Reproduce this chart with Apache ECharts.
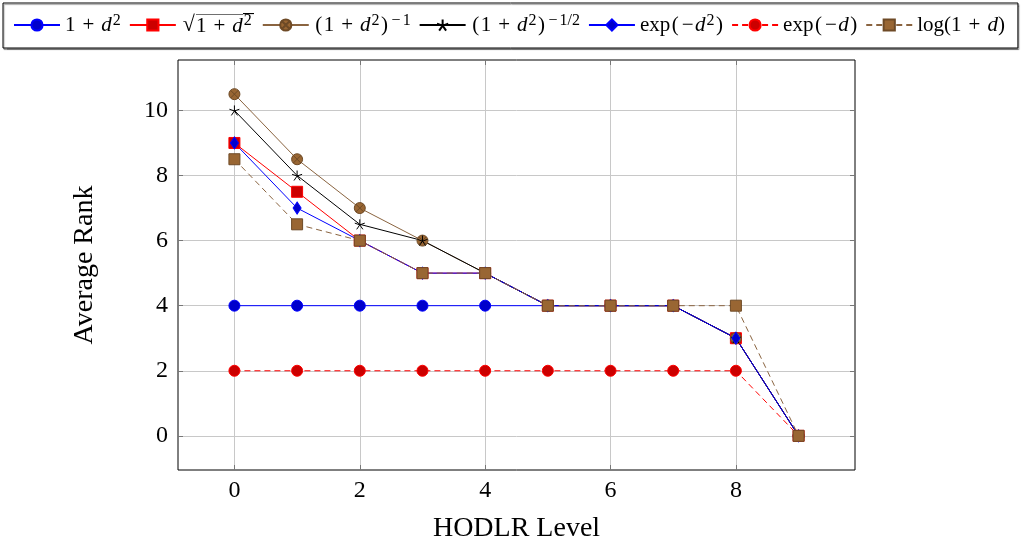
<!DOCTYPE html>
<html>
<head>
<meta charset="utf-8">
<script src="https://cdn.jsdelivr.net/npm/echarts@6/dist/echarts.min.js"></script>
<style>
  html, body { margin: 0; padding: 0; background: #fff; }
  #chart { width: 1021px; height: 544px; }
</style>
</head>
<body>
<div id="chart"></div>
<script>
// HODLR level on the x axis, average rank per kernel on the y axis
const levels = [0, 1, 2, 3, 4, 5, 6, 7, 8, 9];
const rankOnePlusD2     = [4, 4, 4, 4, 4, 4, 4, 4, 3, 0];
const rankSqrtOnePlusD2 = [9, 7.5, 6, 5, 5, 4, 4, 4, 3, 0];
const rankInvOnePlusD2  = [10.5, 8.5, 7, 6, 5, 4, 4, 4, 3, 0];
const rankInvSqrt       = [10, 8, 6.5, 6, 5, 4, 4, 4, 3, 0];
const rankExpNegD2      = [9, 7, 6, 5, 5, 4, 4, 4, 3, 0];
const rankExpNegD       = [2, 2, 2, 2, 2, 2, 2, 2, 2, 0];
const rankLogOnePlusD   = [8.5, 6.5, 6, 5, 5, 4, 4, 4, 4, 0];

const xTicks = [0, 2, 4, 6, 8];
const yTicks = [0, 2, 4, 6, 8, 10];

const seriesNames = ['1+d^2', 'sqrt(1+d^2)', '(1+d^2)^-1', '(1+d^2)^-1/2', 'exp(-d^2)', 'exp(-d)', 'log(1+d)'];

// rich-text legend labels (math-style spacing around operators and delimiters)
const SP = '\u2004';
const PLUS = '1' + SP + '+' + SP;
const legendText = {
  '1+d^2': '{n|' + PLUS + '}{i|d}{s|2}',
  'sqrt(1+d^2)': '{r|\u221A}{o|' + PLUS + '}{oi|d}{os|2}',
  '(1+d^2)^-1': '{p|(}{n|' + PLUS + '}{i|d}{s|2}{p|)}{sm|\u2212}{s|1}',
  '(1+d^2)^-1/2': '{p|(}{n|' + PLUS + '}{i|d}{s|2}{p|)}{sm|\u2212}{s|1/2}',
  'exp(-d^2)': '{n|exp}{p|(}{m|\u2212}{i|d}{s|2}{p|)}',
  'exp(-d)': '{n|exp}{p|(}{m|\u2212}{i|d}{p|)}',
  'log(1+d)': '{n|log(' + PLUS + '}{i|d}{n|)}'
};

// a thin bar along the top edge, stretched behind the radicand as its vinculum
const barImg = document.createElement('canvas');
barImg.width = 2; barImg.height = 22;
(function () {
  const c = barImg.getContext('2d');
  c.fillStyle = '#000';
  c.fillRect(0, 0, 2, 1);
})();

const BLUE = '#0000ff', BLUE_FILL = '#0000cc';
const RED = '#ff0000', RED_FILL = '#cc0000';
const BROWN = '#8a6440', BROWN_FILL = '#996633', BROWN_EDGE = '#6e4a26';

const otimes = 'path://M-5,0A5,5,0,1,0,5,0A5,5,0,1,0,-5,0ZM-3.5,-3.5L3.5,3.5M-3.5,3.5L3.5,-3.5';
const star = 'path://M0,0L0,-5M0,0L4.76,-1.55M0,0L2.94,4.05M0,0L-2.94,4.05M0,0L-4.76,-1.55';

function pts(ys) { return levels.map((x, i) => [x, ys[i]]); }

function mkSeries(name, ys, opt) {
  return Object.assign({
    name: name,
    type: 'line',
    data: pts(ys),
    symbolSize: 11,
    showAllSymbol: true,
    animation: false,
    lineStyle: { width: 1 }
  }, opt);
}

const series = [
  mkSeries(seriesNames[0], rankOnePlusD2, {
    symbol: 'circle', color: BLUE,
    lineStyle: { width: 1, color: BLUE },
    itemStyle: { color: BLUE_FILL, borderColor: BLUE, borderWidth: 1 }
  }),
  mkSeries(seriesNames[1], rankSqrtOnePlusD2, {
    symbol: 'rect', symbolSize: 11, color: RED,
    lineStyle: { width: 1, color: RED },
    itemStyle: { color: RED_FILL, borderColor: RED, borderWidth: 1 }
  }),
  mkSeries(seriesNames[2], rankInvOnePlusD2, {
    symbol: otimes, symbolSize: 11, color: BROWN,
    lineStyle: { width: 1, color: BROWN },
    itemStyle: { color: BROWN_FILL, borderColor: BROWN_EDGE, borderWidth: 1 }
  }),
  mkSeries(seriesNames[3], rankInvSqrt, {
    symbol: star, symbolSize: 10, color: '#000',
    lineStyle: { width: 1, color: '#000' },
    itemStyle: { color: 'rgba(0,0,0,0)', borderColor: '#000', borderWidth: 1 }
  }),
  mkSeries(seriesNames[4], rankExpNegD2, {
    symbol: 'diamond', symbolSize: [8, 12], color: BLUE,
    lineStyle: { width: 1, color: BLUE },
    itemStyle: { color: BLUE_FILL, borderColor: BLUE, borderWidth: 1 }
  }),
  mkSeries(seriesNames[5], rankExpNegD, {
    symbol: 'circle', color: RED,
    lineStyle: { width: 1, color: RED, type: [6, 4] },
    itemStyle: { color: RED_FILL, borderColor: RED, borderWidth: 1 }
  }),
  mkSeries(seriesNames[6], rankLogOnePlusD, {
    symbol: 'rect', symbolSize: 11, color: BROWN,
    lineStyle: { width: 1, color: BROWN, type: [6, 4] },
    itemStyle: { color: BROWN_FILL, borderColor: BROWN_EDGE, borderWidth: 1 }
  })
];

const SERIF = '"Liberation Serif", "DejaVu Serif", serif';
const labelFont = { fontFamily: SERIF, fontSize: 24, color: '#000' };
const titleFont = { fontFamily: SERIF, fontSize: 28, color: '#000' };

function xAxisDef(pos, main) {
  return {
    type: 'value', position: pos, min: -0.9, max: 9.9,
    axisLine: { show: false, onZero: false },
    axisTick: { show: true, inside: true, length: 5, customValues: xTicks, lineStyle: { color: '#777', width: 1 } },
    axisLabel: main ? Object.assign({ customValues: xTicks, margin: 9 }, labelFont) : { show: false },
    splitLine: { show: main, lineStyle: { color: '#c8c8c8', width: 1 } },
    name: main ? 'HODLR Level' : '',
    nameLocation: 'middle', nameGap: 45,
    nameTextStyle: titleFont
  };
}
function yAxisDef(pos, main) {
  return {
    type: 'value', position: pos, min: -1.05, max: 11.55,
    axisLine: { show: false, onZero: false },
    axisTick: { show: true, inside: true, length: 5, customValues: yTicks, lineStyle: { color: '#777', width: 1 } },
    axisLabel: main ? Object.assign({ customValues: yTicks, margin: 10 }, labelFont) : { show: false },
    splitLine: { show: main, lineStyle: { color: '#c8c8c8', width: 1 } },
    name: main ? 'Average Rank' : '',
    nameLocation: 'middle', nameGap: 79, nameRotate: 90,
    nameTextStyle: titleFont
  };
}

const LF = 21;   // legend font size
const SF = 16;   // superscript size
const base = { fontFamily: SERIF, color: '#000' };
const chart = echarts.init(document.getElementById('chart'), null, { renderer: 'canvas' });
chart.setOption({
  backgroundColor: '#fff',
  animation: false,
  grid: {
    left: 178, right: 166, top: 60, bottom: 74,
    outerBoundsMode: 'none', containLabel: false,
    show: true, borderColor: '#000', borderWidth: 1, backgroundColor: 'transparent'
  },
  legend: {
    data: seriesNames,
    left: 3, top: 3,
    orient: 'horizontal',
    padding: [10, 13, 11, 10],
    itemGap: 8,
    itemWidth: 46, itemHeight: 14,
    borderColor: '#000', borderWidth: 1,
    shadowColor: 'rgba(0,0,0,0.35)', shadowOffsetX: 1, shadowOffsetY: 1.5, shadowBlur: 1,
    backgroundColor: '#fff',
    selectedMode: false,
    formatter: name => legendText[name],
    textStyle: {
      fontFamily: SERIF, fontSize: LF, color: '#000',
      rich: {
        n: Object.assign({ fontSize: LF }, base),
        p: Object.assign({ fontSize: LF, padding: [0, 1.5, 0, 1.5] }, base),
        m: Object.assign({ fontSize: LF, padding: [0, 1.5, 0, 1.5] }, base),
        r: Object.assign({ fontSize: LF + 1, padding: [0, 1, 0, 2] }, base),
        i: Object.assign({ fontSize: LF, fontStyle: 'italic' }, base),
        s: Object.assign({ fontSize: SF, padding: [0, 0, 8, 1] }, base),
        sm: Object.assign({ fontSize: SF, padding: [0, 1, 8, 2] }, base),
        o: Object.assign({ fontSize: LF, padding: [2, 0, 0, 0], backgroundColor: { image: barImg } }, base),
        oi: Object.assign({ fontSize: LF, fontStyle: 'italic', padding: [2, 0, 0, 0], backgroundColor: { image: barImg } }, base),
        os: Object.assign({ fontSize: SF, padding: [0, 2, 8, 1], backgroundColor: { image: barImg } }, base)
      }
    }
  },
  xAxis: [xAxisDef('bottom', true), xAxisDef('top', false)],
  yAxis: [yAxisDef('left', true), yAxisDef('right', false)],
  series: series
});
</script>
</body>
</html>
